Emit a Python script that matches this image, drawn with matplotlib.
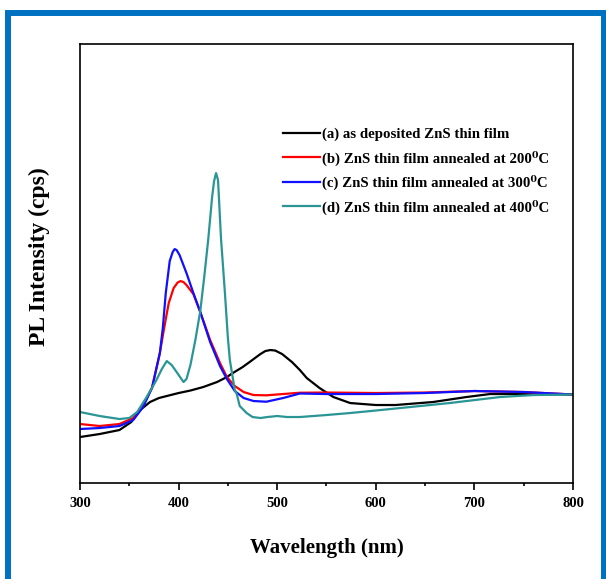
import matplotlib.pyplot as plt
from matplotlib.patches import Rectangle
from matplotlib.ticker import MultipleLocator

plt.rcParams['font.family'] = ['Liberation Serif', 'DejaVu Serif']
plt.rcParams['font.weight'] = 'bold'

# PL spectra (intensity in arbitrary units)
wl_a = [300, 320, 340, 352, 361, 371, 380, 388, 400, 412, 425, 439, 449, 455, 465, 472,
        483, 488, 493, 498, 505, 515, 523, 530, 543, 557, 574, 600, 620, 658, 692, 716, 750, 800]
pl_a = [46, 49, 53, 61, 73, 81, 85, 87, 90, 92.5, 96, 101, 106, 110, 116, 121,
        129, 132, 133, 132.5, 129, 121, 113, 105, 95, 86, 80, 78, 78, 81, 86, 89, 89, 88.5]

wl_b = [300, 320, 340, 354, 364, 373, 381, 385, 390, 395, 399, 402, 405, 408, 415, 422, 432, 442,
        449, 457, 466, 476, 489, 506, 523, 550, 600, 650, 700, 750, 800]
pl_b = [59, 57, 59, 65, 78, 95, 130, 153, 180, 195, 200.5, 202, 201, 198, 189, 171, 143, 120,
        106, 97, 91, 88, 87.7, 89, 90.3, 90.5, 90, 90.5, 92, 91, 88.5]

wl_c = [300, 320, 340, 354, 364, 373, 381, 384, 387, 391, 394, 396, 398, 401, 408, 415, 422, 432,
        442, 449, 457, 466, 476, 489, 506, 523, 550, 600, 650, 700, 750, 800]
pl_c = [54, 55, 57, 63, 76, 95, 130, 155, 190, 222, 231, 234, 233, 228, 210, 190, 171, 141,
        117, 104, 92, 85, 82, 81.3, 85, 89.5, 89, 89, 90, 92, 91, 88.5]

wl_d = [300, 320, 340, 350, 358, 367, 377, 383, 388, 393, 398, 405, 408, 412, 417, 422,
        426, 430, 434, 436, 438, 440, 443, 447, 450, 452, 457, 459, 462, 469, 475, 483,
        490, 500, 510, 523, 550, 574, 600, 625, 675, 726, 760, 800]
pl_d = [71, 67, 64, 65, 71, 85, 102, 114, 122, 118, 111, 101, 104, 118, 143, 172,
        206, 243, 286, 302, 310, 303, 245, 190, 145, 123, 93, 89, 77, 70, 66, 65,
        66, 67, 66, 66, 68, 70, 72.5, 75, 80, 86, 88, 88.5]

labels = ['(a) as deposited ZnS thin film',
          '(b) ZnS thin film annealed at 200\u2070C',
          '(c) ZnS thin film annealed at 300\u2070C',
          '(d) ZnS thin film annealed at 400\u2070C']
colors = ['black', '#FF0000', '#1010FF', '#2A9595']

fig = plt.figure(figsize=(6.06, 5.79), dpi=100)
ax = fig.add_axes([0.132, 0.1658, 0.8135, 0.758])

# blue frame around the picture
fig.patches.append(Rectangle((0.0132, -0.05), 0.9835, 1.0284, fill=False,
                             edgecolor='#0070C0', linewidth=4.3,
                             transform=fig.transFigure, clip_on=False))

for wl, pl, lab, col in zip([wl_a, wl_b, wl_c, wl_d], [pl_a, pl_b, pl_c, pl_d], labels, colors):
    ax.plot(wl, pl, color=col, lw=1.6, label=lab)

ax.set_xlim(300, 800)
ax.set_ylim(0, 439)
ax.set_yticks([])
ax.xaxis.set_major_locator(MultipleLocator(100))
ax.xaxis.set_minor_locator(MultipleLocator(50))
ax.tick_params(axis='x', which='major', direction='out', length=5, width=1.2,
               labelsize=10.5, pad=5)
ax.tick_params(axis='x', which='minor', direction='out', length=2.5, width=1.2)
for s in ax.spines.values():
    s.set_linewidth(1.2)

ax.set_xlabel('Wavelength (nm)', fontsize=15, fontweight='bold', labelpad=20)
ax.set_ylabel('PL Intensity (cps)', fontsize=17, fontweight='bold')
ax.yaxis.set_label_coords(-0.061, 0.515)

ax.legend(loc='upper left', bbox_to_anchor=(0.412, 0.810), frameon=False,
          fontsize=10.7, borderpad=0, handlelength=2.5, handletextpad=0.15,
          labelspacing=0.63, borderaxespad=0)

fig.savefig('out.png', dpi=100)
